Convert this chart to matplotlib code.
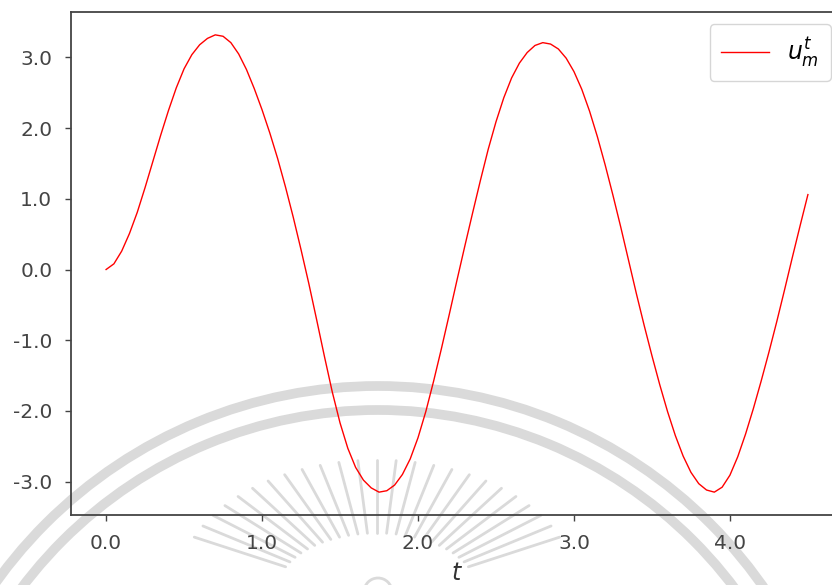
import numpy as np
import matplotlib.pyplot as plt
from matplotlib.patches import Arc
from matplotlib.ticker import FormatStrFormatter

# time samples and response
t = [0.00, 0.05, 0.10, 0.15, 0.20, 0.25, 0.30, 0.35, 0.40, 0.45,
     0.50, 0.55, 0.60, 0.65, 0.70, 0.75, 0.80, 0.85, 0.90, 0.95,
     1.00, 1.05, 1.10, 1.15, 1.20, 1.25, 1.30, 1.35, 1.40, 1.45,
     1.50, 1.55, 1.60, 1.65, 1.70, 1.75, 1.80, 1.85, 1.90, 1.95,
     2.00, 2.05, 2.10, 2.15, 2.20, 2.25, 2.30, 2.35, 2.40, 2.45,
     2.50, 2.55, 2.60, 2.65, 2.70, 2.75, 2.80, 2.85, 2.90, 2.95,
     3.00, 3.05, 3.10, 3.15, 3.20, 3.25, 3.30, 3.35, 3.40, 3.45,
     3.50, 3.55, 3.60, 3.65, 3.70, 3.75, 3.80, 3.85, 3.90, 3.95,
     4.00, 4.05, 4.10, 4.15, 4.20, 4.25, 4.30, 4.35, 4.40, 4.45,
     4.50]

u_m = [0.00, 0.08, 0.26, 0.51, 0.81, 1.16, 1.53, 1.90, 2.25, 2.57,
       2.84, 3.04, 3.18, 3.27, 3.32, 3.30, 3.21, 3.05, 2.83, 2.56,
       2.26, 1.93, 1.57, 1.17, 0.74, 0.28, -0.20, -0.71, -1.23, -1.73,
       -2.17, -2.53, -2.80, -2.98, -3.09, -3.15, -3.13, -3.05, -2.90, -2.68,
       -2.38, -2.01, -1.58, -1.12, -0.64, -0.15, 0.33, 0.80, 1.26, 1.70,
       2.09, 2.43, 2.71, 2.92, 3.07, 3.17, 3.21, 3.19, 3.12, 2.99,
       2.80, 2.55, 2.24, 1.88, 1.48, 1.05, 0.60, 0.13, -0.34, -0.79,
       -1.22, -1.63, -2.01, -2.35, -2.64, -2.87, -3.03, -3.12, -3.15, -3.08,
       -2.91, -2.65, -2.33, -1.97, -1.58, -1.17, -0.74, -0.29, 0.17, 0.62,
       1.06]

xticks = [0, 1, 2, 3, 4]
yticks = [-3, -2, -1, 0, 1, 2, 3]

W, H = 832, 585
fig = plt.figure(figsize=(W / 100, H / 100), dpi=100)

# faint seal watermark sitting behind the plot (pixel coords)
bg = fig.add_axes([0, 0, 1, 1], zorder=0)
bg.set_xlim(0, W)
bg.set_ylim(H, 0)
bg.axis('off')
wm = '#dadada'
for r in (470, 446):
    bg.add_patch(Arc((378, 856), 2 * r, 2 * r, lw=7, color=wm))
bg.add_patch(Arc((378, 592), 28, 28, lw=2, color=wm))
cx, cy = 377, 590
for ang in np.arange(24, 157, 5.5):
    a = np.radians(ang)
    bg.plot([cx + 100 * np.cos(a), cx + 200 * np.cos(a)],
            [cy - 57 * np.sin(a), cy - 130 * np.sin(a)],
            color=wm, lw=2, solid_capstyle='round')

# main axes (right edge runs just past the picture, as in the reference)
ax = fig.add_axes([71 / W, 1 - 515 / H, (843 - 71) / W, (515 - 12) / H], zorder=1)
ax.patch.set_alpha(0)
ax.plot(t, u_m, color='red', lw=1.0, label='$u_m^t$')

ax.set_xticks(xticks)
ax.set_yticks(yticks)
ax.xaxis.set_major_formatter(FormatStrFormatter('%.1f'))
ax.yaxis.set_major_formatter(FormatStrFormatter('%.1f'))
ax.tick_params(labelsize=14.5, labelcolor='#444444', color='#444444',
               length=4.5, width=1, pad=9)
for s in ax.spines.values():
    s.set_color('#444444')
    s.set_linewidth(1.3)

ax.set_xlabel('$t$', fontsize=17, color='#333333', labelpad=6)
ax.legend(loc='upper right', fontsize=17, borderpad=0.5)

fig.savefig('out.png', dpi=100)
